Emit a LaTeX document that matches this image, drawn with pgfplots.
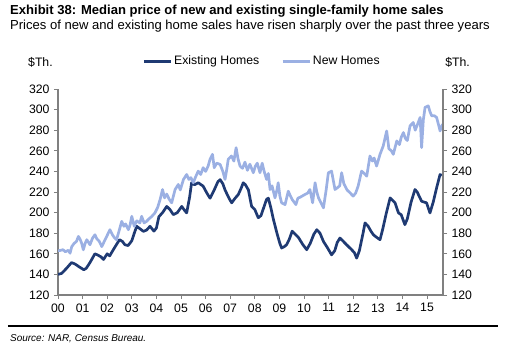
\documentclass[border=0pt]{standalone}
\usepackage{pgfplots}
\pgfplotsset{compat=1.18}
\usepackage{fontspec}
\setmainfont{Liberation Sans}
\definecolor{darkline}{HTML}{1F3A73}
\definecolor{lightline}{HTML}{9BB0E3}
\definecolor{axgray}{HTML}{808080}
\begin{document}
\begin{tikzpicture}[x=1bp,y=1bp]
\useasboundingbox (-58,-63) rectangle (453,295);
\pgfplotsset{
  common/.style={
    scale only axis, width=385bp, height=206bp,
    at={(0,0)}, anchor=south west,
    xmin=0, xmax=15.65, ymin=120, ymax=320,
    ytick={120,140,...,320},
    tick align=outside, major tick length=4bp,
    every tick/.style={axgray, line width=0.8bp},
    axis line style={axgray, line width=1.3bp},
    tick label style={font=\fontsize{12.3}{14}\selectfont, text=black},
    /pgf/number format/assume math mode=true,
  }
}
\begin{axis}[common,
  axis x line*=bottom, axis y line*=left,
  xtick={0,...,15},
  xticklabels={00,01,02,03,04,05,06,07,08,09,10,11,12,13,14,15},
  yticklabel style={xshift=-1bp},
  xticklabel style={yshift=-1bp},
  legend style={at={(0.53,1.135)}, anchor=center, draw=none, fill=none,
    legend columns=2, font=\fontsize{12.3}{14}\selectfont,
    /tikz/every even column/.append style={column sep=20bp}},
  legend image code/.code={\draw[#1] (0bp,0bp) -- (27bp,0bp);},
]
\addplot[darkline, line width=2.7bp, line join=round] coordinates {
(0.0,140) (0.15,141) (0.35,146) (0.55,151.5) (0.7,150) (0.85,147.5) (1.05,144.5) (1.15,146)
(1.3,151.5) (1.5,160) (1.6,159) (1.75,157) (1.85,154.5) (2.0,160) (2.1,158) (2.3,166)
(2.5,173.7) (2.62,172) (2.72,168.8) (2.85,168) (3.0,172.7) (3.1,180) (3.2,186.7) (3.35,184)
(3.47,181.8) (3.6,183) (3.74,186.7) (3.9,182) (4.0,185) (4.1,196) (4.25,200) (4.42,206)
(4.55,203) (4.69,198) (4.85,200) (5.03,206) (5.15,202) (5.23,199.7) (5.35,215) (5.43,229)
(5.55,227) (5.7,229) (5.9,225.7) (6.05,219) (6.18,214) (6.35,222) (6.5,230) (6.59,232)
(6.7,228) (6.79,222) (6.95,214) (7.06,209.5) (7.2,214) (7.33,217.6) (7.45,224) (7.53,229)
(7.62,227) (7.74,222) (7.87,206) (8.0,203) (8.14,195) (8.25,197) (8.35,204) (8.48,213)
(8.55,214) (8.65,205) (8.75,194) (8.9,180) (9.02,170) (9.09,165.6) (9.2,167) (9.29,168.8)
(9.4,174) (9.52,182) (9.6,180) (9.77,176) (9.95,169) (10.11,164) (10.25,170) (10.4,179)
(10.52,183.4) (10.65,180) (10.79,172) (10.95,166) (11.12,159) (11.25,163) (11.35,171) (11.46,175.3)
(11.6,172) (11.73,168.8) (11.94,163.9) (12.05,161) (12.14,155.8) (12.25,163) (12.4,180) (12.48,190)
(12.6,187) (12.72,182) (12.82,178.5) (12.95,176) (13.09,173.7) (13.2,184) (13.35,200) (13.5,214.3)
(13.6,212) (13.7,209.5) (13.84,199.7) (13.95,198) (14.1,188.3) (14.2,194) (14.35,210) (14.51,222.4)
(14.6,220) (14.78,211) (14.98,209.5) (15.12,199.7) (15.25,210) (15.4,225) (15.53,237) (15.6,236)
};
\addlegendentry{Existing Homes}
\addplot[lightline, line width=2.7bp, line join=round] coordinates {
(0.0,163) (0.08,163.2) (0.2,164) (0.3,162) (0.42,163.4) (0.49,160.6) (0.56,167) (0.65,170)
(0.75,172) (0.83,176.9) (0.9,174) (0.96,170.4) (1.03,163.9) (1.1,170) (1.17,173.7) (1.3,168.8)
(1.4,175) (1.5,178.5) (1.58,174.5) (1.68,172) (1.78,167) (1.88,172) (1.98,176.9) (2.11,183.4)
(2.2,179) (2.28,176) (2.38,173.7) (2.48,182) (2.59,191.5) (2.68,186.7) (2.75,189) (2.86,183.4)
(2.93,188) (3.0,196.4) (3.1,186.7) (3.2,192) (3.33,190) (3.4,196.4) (3.5,190) (3.6,191.5)
(3.7,194) (3.8,196) (3.94,199.7) (4.05,205) (4.15,212.7) (4.25,222.4) (4.33,214.3) (4.42,218)
(4.52,213) (4.62,209.5) (4.76,222.4) (4.89,227.3) (4.97,222) (5.1,232.2) (5.23,237) (5.32,232.2)
(5.4,234) (5.5,229) (5.6,235) (5.7,240.3) (5.8,237) (5.9,243.6) (6.0,240) (6.1,245)
(6.18,251.7) (6.28,256.6) (6.35,243.6) (6.45,248) (6.59,246.8) (6.7,240) (6.79,232.2) (6.86,242)
(6.92,251.7) (7.05,255) (7.15,250) (7.24,263) (7.32,252) (7.4,245.2) (7.5,243) (7.6,249)
(7.7,241) (7.8,247) (7.94,238.7) (8.02,245) (8.1,248) (8.21,238.7) (8.3,248) (8.38,240)
(8.48,232.2) (8.55,238) (8.62,222.4) (8.7,226) (8.82,214.3) (8.9,222) (8.95,229) (9.02,216)
(9.09,209.5) (9.23,207.8) (9.36,220.8) (9.45,216) (9.52,212.7) (9.67,207.8) (9.75,214) (9.85,215)
(10.04,217.6) (10.15,219) (10.24,222.4) (10.35,209.5) (10.45,229) (10.52,220) (10.59,214.3) (10.7,209)
(10.79,204.6) (10.9,222) (10.99,238.7) (11.12,240.3) (11.2,230) (11.26,222.4) (11.35,224) (11.45,226)
(11.53,238.7) (11.62,228) (11.75,222) (11.87,219.2) (12.0,216) (12.1,219) (12.2,225.7) (12.34,240.3)
(12.45,238) (12.55,235.4) (12.68,254.9) (12.78,250) (12.85,253) (12.95,245.2) (13.09,256.6) (13.22,264.7)
(13.36,279.3) (13.45,262) (13.55,260) (13.63,256.6) (13.77,269.6) (13.88,266) (13.95,273) (14.04,277.7)
(14.12,272) (14.2,270) (14.31,284.2) (14.44,287.5) (14.52,280) (14.62,286) (14.72,292.4) (14.78,263.1)
(14.85,290) (14.92,302.1) (15.05,303.7) (15.12,298) (15.19,294) (15.3,294) (15.39,292.4) (15.46,286)
(15.53,279.3) (15.63,285.9)
};
\addlegendentry{New Homes}
\end{axis}
\begin{axis}[common,
  axis y line*=right, axis x line=none,
  yticklabel style={xshift=1bp},
]
\end{axis}
% titles and notes
\node[anchor=base west, inner sep=0pt, font=\fontsize{13.1}{15}\selectfont\bfseries] at (-48,281) {Exhibit 38: Median price of new and existing single-family home sales};
\node[anchor=base west, inner sep=0pt, font=\fontsize{13.1}{15}\selectfont] at (-48,266) {Prices of new and existing home sales have risen sharply over the past three years};
\node[anchor=base west, inner sep=0pt, font=\fontsize{12.3}{14}\selectfont] at (-30,229) {\$Th.};
\node[anchor=base east, inner sep=0pt, font=\fontsize{12.3}{14}\selectfont] at (412,229) {\$Th.};
\draw[black, line width=2.2bp] (-50,-31) -- (440,-31);
\node[anchor=base west, inner sep=0pt, font=\fontsize{10}{12}\selectfont\itshape] at (-48,-46) {Source: NAR, Census Bureau.};
\end{tikzpicture}
\end{document}
